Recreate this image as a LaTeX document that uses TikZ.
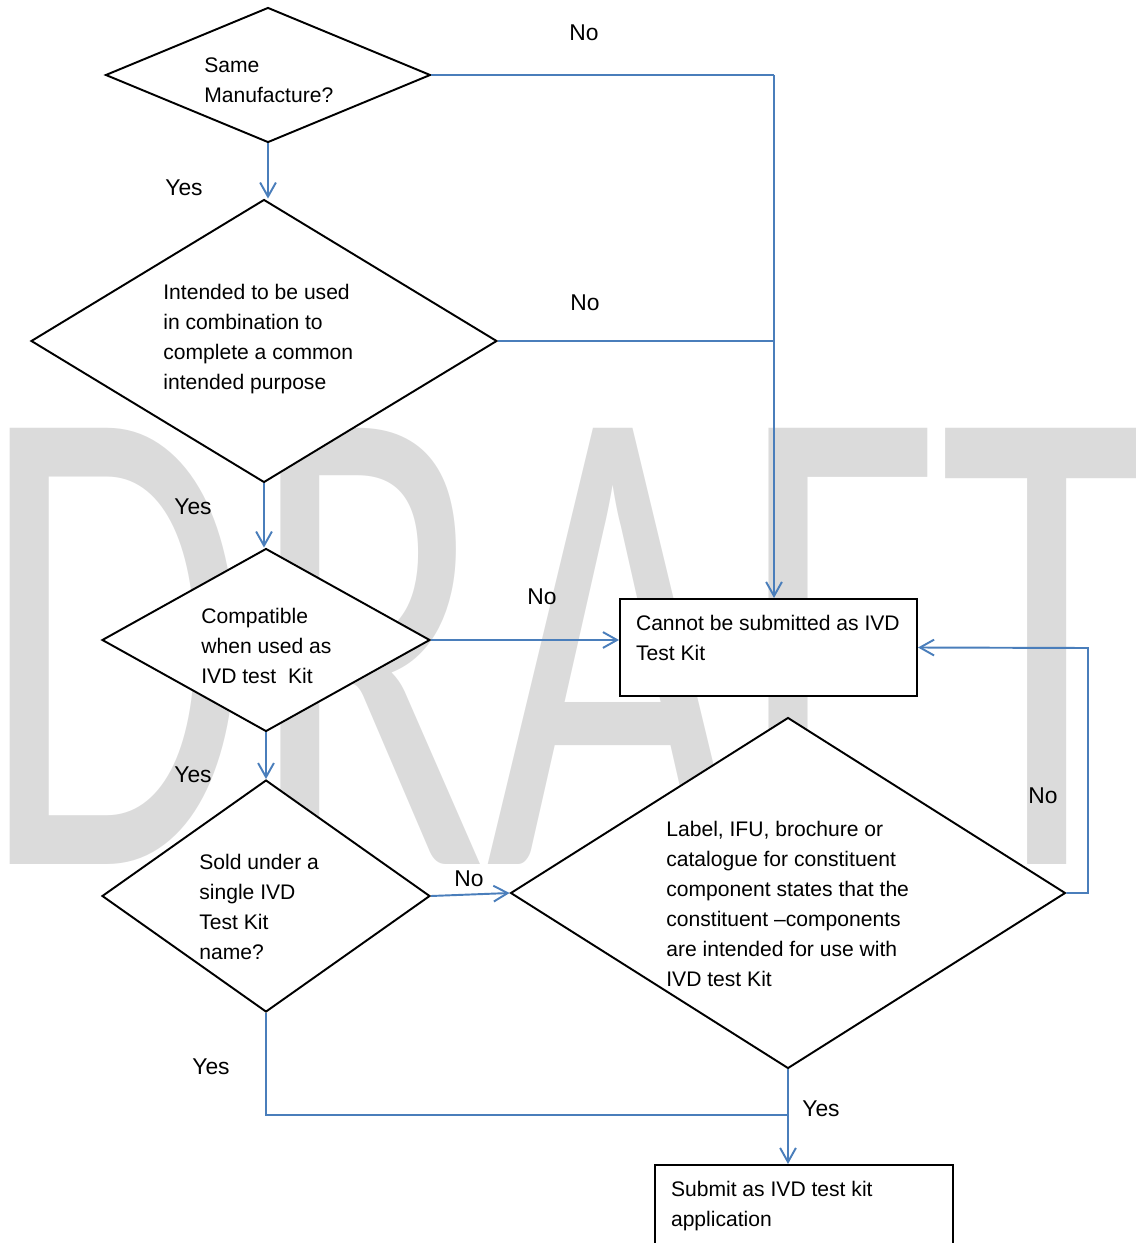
\documentclass[tikz,border=0pt]{standalone}
\usepackage{fontspec}
\setmainfont{Liberation Sans}
\newfontfamily\wmfont[Kerning=Off]{Carlito}
\usetikzlibrary{shapes.geometric, arrows.meta, positioning, calc}
\definecolor{linkblue}{RGB}{74,126,187}
\definecolor{wmgray}{RGB}{219,219,219}

\begin{document}
\begin{tikzpicture}[
      x=0.02cm, y=-0.02cm,
      font=\fontsize{12}{17.1}\selectfont,
      decision/.style={diamond, draw=black, line width=1.1pt, fill=white,
                       inner sep=0pt},
      txt/.style={inner sep=0pt, align=left, anchor=west},
      box/.style={rectangle, draw=black, line width=1.2pt, fill=white,
                  inner xsep=0.32cm, inner ysep=0.32cm},
      wm/.style={text=wmgray, inner sep=0pt, anchor=base west,
                 font=\wmfont\fontsize{387}{387}\selectfont},
      lbl/.style={inner sep=0pt, font=\fontsize{13}{15}\selectfont},
      conn/.style={draw=linkblue, line width=1.1pt},
      arr/.style={conn, -{Straight Barb[length=8pt, width=9pt]}}
    ]
    \path[use as bounding box, clip] (0,0) rectangle (1135,1243);

    % Watermark
    \node[wm] (draft) at (-20,864) {\scalebox{0.643}[1]{DRAFT}};

    % Decisions, left column
    \node[decision, minimum width=6.5cm, minimum height=2.7cm] (same) at (268,75) {};
    \node[decision, minimum width=9.32cm, minimum height=5.66cm] (combo) at (264,341) {};
    \node[decision, minimum width=6.56cm, minimum height=3.66cm] (compat) at (266,640) {};
    \node[decision, minimum width=6.56cm, minimum height=4.64cm] (sold) at (266,896) {};

    % Decision, right
    \node[decision, minimum width=11.1cm, minimum height=7.02cm] (leaflet) at (788,893) {};

    % Decision texts
    \node[txt] (sametxt) at (204,80) {Same\\Manufacture?};
    \node[txt] (combotxt) at (163,339) {Intended to be used\\in combination to\\complete a common\\intended purpose};
    \node[txt] (compattxt) at (201,646) {Compatible\\when used as\\IVD test~ Kit};
    \node[txt] (soldtxt) at (199,907) {Sold under a\\single IVD\\Test Kit\\name?};
    \node[txt] (leaflettxt) at (666,904) {Label, IFU, brochure or\\catalogue for constituent\\component states that the\\constituent --components\\are intended for use with\\IVD test Kit};

    % Outcomes
    \node[box, minimum width=5.94cm, minimum height=1.94cm] (reject) at (768.5,647.5) {\parbox[t][1.30cm][t]{5.3cm}{\mbox{Cannot be submitted as IVD}\\Test Kit}};
    \node[box, minimum width=5.96cm, minimum height=1.94cm] (submit) at (804,1213.5) {\parbox[t][1.30cm][t]{5.32cm}{\mbox{Submit as IVD test kit}\\application}};

    % Joints
    \coordinate (jtop) at (774,75);
    \coordinate (jright) at (1088,648);
    \coordinate (jlow) at (788,1115);

    % Arrows
    \draw[arr] (same.south) -- (same.south |- combo.north);
    \draw[arr] (combo.south) -- (combo.south |- compat.north);
    \draw[arr] (compat.south) -- (compat.south |- sold.north);
    \draw[conn] (same.east) -- (jtop);
    \draw[arr] (jtop) -- (jtop |- reject.north);
    \draw[conn] (combo.east) -- (combo.east -| jtop);
    \draw[arr] (compat.east) -- (compat.east -| reject.west);
    \draw[arr] (sold.east) -- (leaflet.west);
    \draw[arr] (leaflet.east) -| (jright) -- (reject.east);
    \draw[conn] (sold.south) |- (jlow);
    \draw[arr] (leaflet.south) -- (leaflet.south |- submit.north);

    % Labels
    \node[lbl] (no1) at (584,33) {No};
    \node[lbl] (yes1) at (184,188) {Yes};
    \node[lbl] (no2) at (585,303) {No};
    \node[lbl] (yes2) at (193,507) {Yes};
    \node[lbl] (no3) at (542,597) {No};
    \node[lbl] (yes3) at (193,775) {Yes};
    \node[lbl] (no4) at (469,879) {No};
    \node[lbl] (no5) at (1043,796) {No};
    \node[lbl] (yes4) at (211,1067) {Yes};
    \node[lbl] (yes5) at (821,1109) {Yes};
  \end{tikzpicture}
\end{document}
